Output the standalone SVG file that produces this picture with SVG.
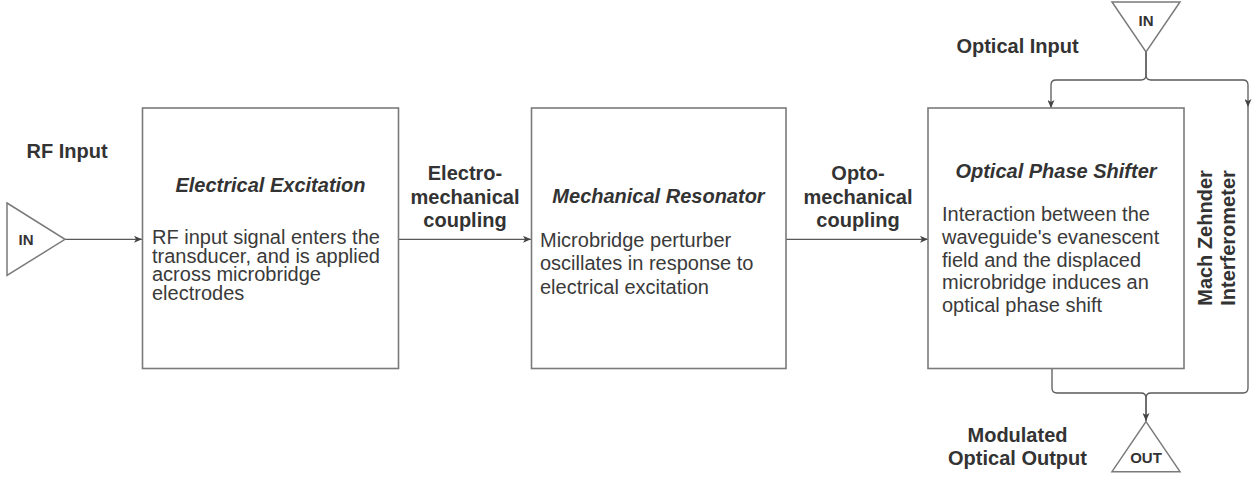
<svg xmlns="http://www.w3.org/2000/svg" width="1258" height="477" viewBox="0 0 1258 477">
<style>
  .box { fill: #ffffff; stroke: #7a7a7a; stroke-width: 1.6; }
  .tri { fill: #ffffff; stroke: #7a7a7a; stroke-width: 1.5; }
  .edge { fill: none; stroke: #5a5a5a; stroke-width: 1.3; }
  .lbl { font-family: "Liberation Sans", Arial, sans-serif; font-weight: bold; font-size: 20px; fill: #333333; }
  .ttl { font-family: "Liberation Sans", Arial, sans-serif; font-weight: bold; font-style: italic; font-size: 20px; fill: #333333; }
  .body { font-family: "Liberation Sans", Arial, sans-serif; font-size: 20px; fill: #3a3a3a; }
  .port { font-family: "Liberation Sans", Arial, sans-serif; font-weight: bold; font-size: 15px; fill: #333333; }
</style>
<defs>
  <marker id="arr" markerWidth="8" markerHeight="7" refX="8" refY="3.5" orient="auto" markerUnits="userSpaceOnUse">
    <path d="M0,0 L8,3.5 L0,7 L2,3.5 z" fill="#444444"/>
  </marker>
</defs>
<rect width="1258" height="477" fill="#ffffff"/>

<g id="connectors">
  <path class="edge" d="M65,239.3 L142,239.3" marker-end="url(#arr)"/>
  <path class="edge" d="M398.5,239.3 L531,239.3" marker-end="url(#arr)"/>
  <path class="edge" d="M786,239.3 L928,239.3" marker-end="url(#arr)"/>
  <path class="edge" d="M1146,52 L1146,75 Q1146,80 1141,80 L1056,80 Q1051,80 1051,85 L1051,108" marker-end="url(#arr)"/>
  <path class="edge" d="M1146,52 L1146,75 Q1146,80 1151,80 L1243,80 Q1248,80 1248,85 L1248,107" marker-end="url(#arr)"/>
  <path class="edge" d="M1248,107 L1248,388 Q1248,393 1243,393 L1151,393 Q1146,393 1146,398 L1146,421"/>
  <path class="edge" d="M1052,368.5 L1052,388 Q1052,393 1057,393 L1141,393 Q1146,393 1146,398 L1146,421" marker-end="url(#arr)"/>
</g>

<g id="rf-input">
  <polygon class="tri" points="7,203 65,239.3 7,275.5"/>
  <text class="port" x="26" y="245" text-anchor="middle">IN</text>
  <text class="lbl" x="67" y="158" text-anchor="middle">RF Input</text>
</g>

<g id="electrical-excitation">
  <rect class="box" x="142.5" y="108" width="256" height="260.5"/>
  <text class="ttl" x="270.5" y="192" text-anchor="middle">Electrical Excitation</text>
  <text class="body" x="152" y="244">RF input signal enters the</text>
  <text class="body" x="152" y="262.5">transducer, and is applied</text>
  <text class="body" x="152" y="281">across microbridge</text>
  <text class="body" x="152" y="299.5">electrodes</text>
</g>

<g id="electromechanical-coupling">
  <text class="lbl" x="465" y="180" text-anchor="middle">Electro-</text>
  <text class="lbl" x="465" y="204" text-anchor="middle">mechanical</text>
  <text class="lbl" x="465" y="227" text-anchor="middle">coupling</text>
</g>

<g id="mechanical-resonator">
  <rect class="box" x="531.5" y="108" width="254.5" height="260.5"/>
  <text class="ttl" x="658.5" y="203" text-anchor="middle">Mechanical Resonator</text>
  <text class="body" x="540" y="246.5">Microbridge perturber</text>
  <text class="body" x="540" y="270">oscillates in response to</text>
  <text class="body" x="540" y="293.5">electrical excitation</text>
</g>

<g id="optomechanical-coupling">
  <text class="lbl" x="858" y="180" text-anchor="middle">Opto-</text>
  <text class="lbl" x="858" y="204" text-anchor="middle">mechanical</text>
  <text class="lbl" x="858" y="227" text-anchor="middle">coupling</text>
</g>

<g id="optical-phase-shifter">
  <rect class="box" x="928" y="108" width="256" height="260.5"/>
  <text class="ttl" x="1056" y="178" text-anchor="middle">Optical Phase Shifter</text>
  <text class="body" x="942" y="221">Interaction between the</text>
  <text class="body" x="942" y="244">waveguide's evanescent</text>
  <text class="body" x="942" y="266.5">field and the displaced</text>
  <text class="body" x="942" y="289">microbridge induces an</text>
  <text class="body" x="942" y="311.5">optical phase shift</text>
</g>

<g id="optical-input">
  <polygon class="tri" points="1112,2 1180,2 1146,52"/>
  <text class="port" x="1146" y="26" text-anchor="middle">IN</text>
  <text class="lbl" x="1017.5" y="53" text-anchor="middle">Optical Input</text>
</g>

<g id="mach-zehnder">
  <text class="lbl" transform="translate(1212,238) rotate(-90)" text-anchor="middle">Mach Zehnder</text>
  <text class="lbl" transform="translate(1235,238) rotate(-90)" text-anchor="middle">Interferometer</text>
</g>

<g id="optical-output">
  <polygon class="tri" points="1146,421.7 1180,471.7 1112,471.7"/>
  <text class="port" x="1146" y="463" text-anchor="middle">OUT</text>
  <text class="lbl" x="1017.5" y="442" text-anchor="middle">Modulated</text>
  <text class="lbl" x="1017.5" y="465" text-anchor="middle">Optical Output</text>
</g>
</svg>
